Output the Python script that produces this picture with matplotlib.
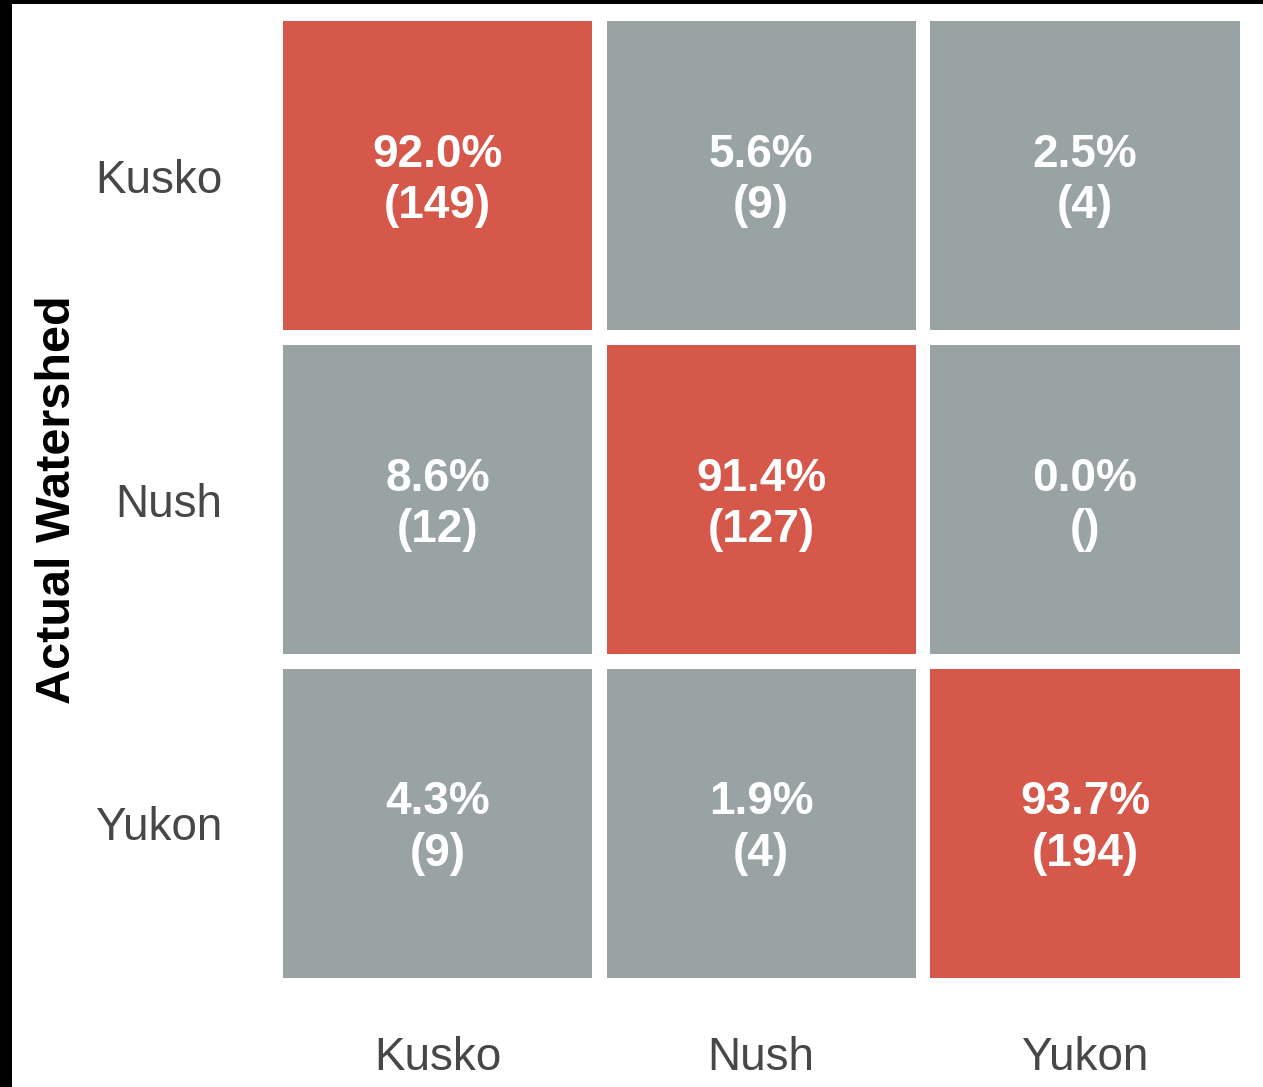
import matplotlib
matplotlib.use("Agg")
import matplotlib.pyplot as plt
from matplotlib.patches import Rectangle

plt.rcParams["font.family"] = ["Liberation Sans", "DejaVu Sans"]

watersheds = ["Kusko", "Nush", "Yukon"]
percents = [
    [92.0, 5.6, 2.5],
    [8.6, 91.4, 0.0],
    [4.3, 1.9, 93.7],
]
counts = [
    [149, 9, 4],
    [12, 127, None],
    [9, 4, 194],
]

red = "#d6584a"
grey = "#99a3a4"
tick_col = "#474747"
cell = 0.955

fig = plt.figure(figsize=(12.63, 10.87), dpi=100)
fig.patch.set_facecolor("white")
ax = fig.add_axes([0.2181, 0.0938, 0.7692, 0.8933])

for i, row in enumerate(percents):
    for j, pct in enumerate(row):
        face = red if i == j else grey
        ax.add_patch(Rectangle((j - cell / 2, i - cell / 2), cell, cell,
                               facecolor=face, edgecolor="none"))
        n = counts[i][j]
        label = f"{pct:.1f}%\n({'' if n is None else n})"
        ax.text(j, i + 0.015, label, ha="center", va="center", color="white",
                fontsize=33, fontweight="bold", linespacing=1.22)

ax.set_xlim(-0.5, 2.5)
ax.set_ylim(2.5, -0.5)
ax.set_xticks(range(3))
ax.set_xticklabels(watersheds)
ax.set_yticks(range(3))
ax.set_yticklabels(watersheds)
ax.tick_params(length=0, labelsize=33, labelcolor=tick_col)
ax.tick_params(axis="x", pad=37)
ax.tick_params(axis="y", pad=38)
for s in ax.spines.values():
    s.set_visible(False)

fig.text(58 / 1263, 1 - 500 / 1087, "Actual Watershed", rotation=90,
         ha="center", va="center", fontsize=35, fontweight="bold", color="black")

# dark frame along the left and top edge
fig.add_artist(Rectangle((0, 0), 12 / 1263, 1, transform=fig.transFigure,
                         facecolor="black", edgecolor="none"))
fig.add_artist(Rectangle((0, 1 - 4 / 1087), 1, 4 / 1087, transform=fig.transFigure,
                         facecolor="black", edgecolor="none"))

fig.savefig("out.png", dpi=100, facecolor="white")
